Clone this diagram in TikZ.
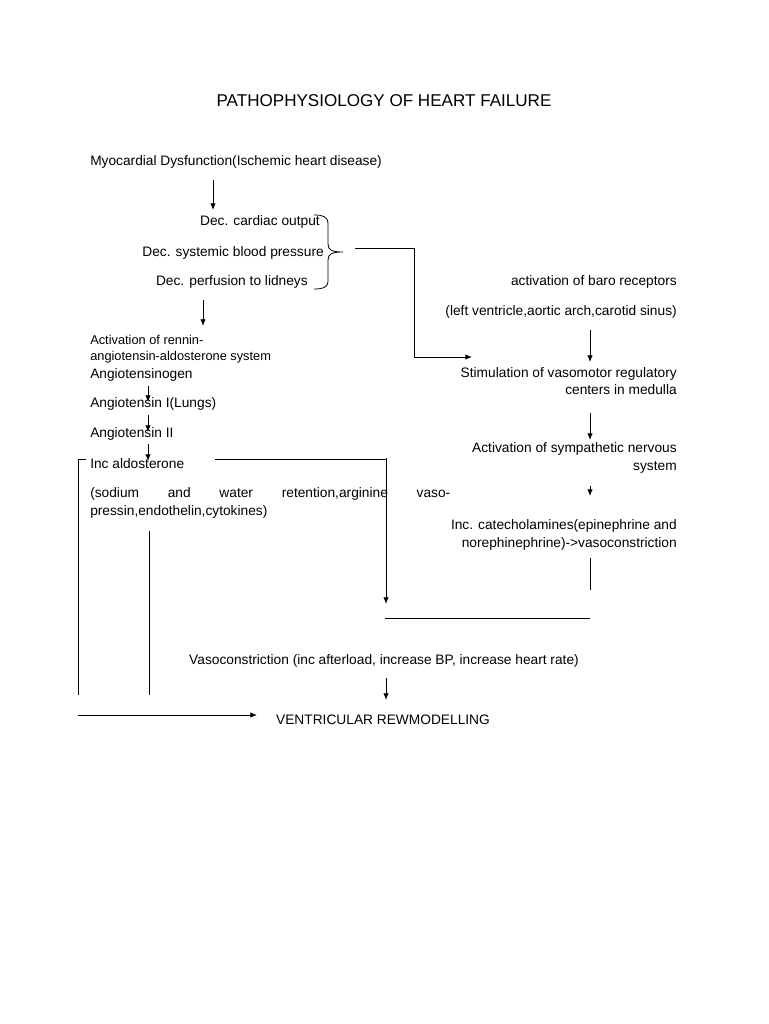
\documentclass[tikz,border=0pt]{standalone}
\usepackage{fontspec}
\setmainfont{Liberation Sans}
\usetikzlibrary{arrows.meta}
\begin{document}
\begin{tikzpicture}[x=0.75pt,y=-0.75pt,
  txt/.style={inner sep=0pt,font=\fontsize{10.3}{13}\selectfont},
  arr/.style={-{Latex[length=5pt,width=4pt]},line width=0.6pt},
  ln/.style={line width=0.6pt}]
\useasboundingbox (0,0) rectangle (768,1024);
\node[txt,font=\fontsize{12.8}{15}\selectfont] (title) at (384,101) {PATHOPHYSIOLOGY OF HEART FAILURE};
\node[txt,anchor=west] (myo) at (90,162) {Myocardial Dysfunction(Ischemic heart disease)};
\node[txt,anchor=east] (dco) at (320,222) {Dec. cardiac output};
\node[txt,anchor=east] (dsb) at (324,253) {Dec. systemic blood pressure};
\node[txt,anchor=east] (dpk) at (308,282) {Dec. perfusion to lidneys};
\draw[ln] (314,215) .. controls (322,215) and (328,216) .. (328,224) -- (328,244) .. controls (328,250) and (332,252) .. (343,252) .. controls (332,252) and (328,254) .. (328,260) -- (328,281) .. controls (328,288) and (322,289) .. (314,289);
\coordinate (bt) at (355,248);
\node[txt,anchor=west,align=left,font=\fontsize{9.6}{12}\selectfont] (raas) at (90,349) {Activation of rennin-\\angiotensin-aldosterone system};
\node[txt,anchor=west] (agn) at (90,375) {Angiotensinogen};
\node[txt,anchor=west] (a1) at (90,404) {Angiotensin I(Lungs)};
\node[txt,anchor=west] (a2) at (90,434) {Angiotensin II};
\node[txt,anchor=west] (ald) at (90,464) {Inc aldosterone};
\node[txt,anchor=west,align=justify,text width=270] (sod) at (90,503) {(sodium and water retention,arginine vasopressin,endothelin,cytokines)};
\node[txt,anchor=east] (baro) at (677,282) {activation of baro receptors};
\node[txt,anchor=east] (lv) at (677,312) {(left ventricle,aortic arch,carotid sinus)};
\node[txt,anchor=east,align=right] (stim) at (677,381) {Stimulation of vasomotor regulatory\\centers in medulla};
\node[txt,anchor=east,align=right] (sym) at (677,458) {Activation of sympathetic nervous\\system\hspace{3pt}};
\node[txt,anchor=east,align=right] (cat) at (677,535) {Inc. catecholamines(epinephrine and\\norephinephrine)->vasoconstriction};
\node[txt] (vaso) at (384,661) {Vasoconstriction (inc afterload, increase BP, increase heart rate)};
\node[txt] (vr) at (383,720) {VENTRICULAR REWMODELLING};
% arrows
\draw[arr] (213,180) -- (213,210);
\draw[arr] (203,300) -- (203,326);
\draw[arr] (148,386) -- (148,402);
\draw[arr] (148,415) -- (148,432);
\draw[arr] (148,444) -- (148,461);
\draw[ln] (bt) -- (414,248) coordinate (c1);
\draw[arr] (c1) -- (414,357) -- (472,357);
\draw[arr] (590,330) -- (590,362);
\draw[arr] (590,413) -- (590,440);
\draw[arr] (590,486) -- (590,496);
\draw[ln] (215,459) -- (386,459);
\draw[arr] (386,458) -- (386,604);
\draw[ln] (590,558) -- (590,590);
\draw[ln] (385,618) -- (590,618);
\draw[arr] (386,678) -- (386,700);
\draw[ln] (86,459) -- (78,459) -- (78,695);
\draw[ln] (149,531) -- (149,695);
\draw[arr] (78,715) -- (257,715);
\end{tikzpicture}
\end{document}
